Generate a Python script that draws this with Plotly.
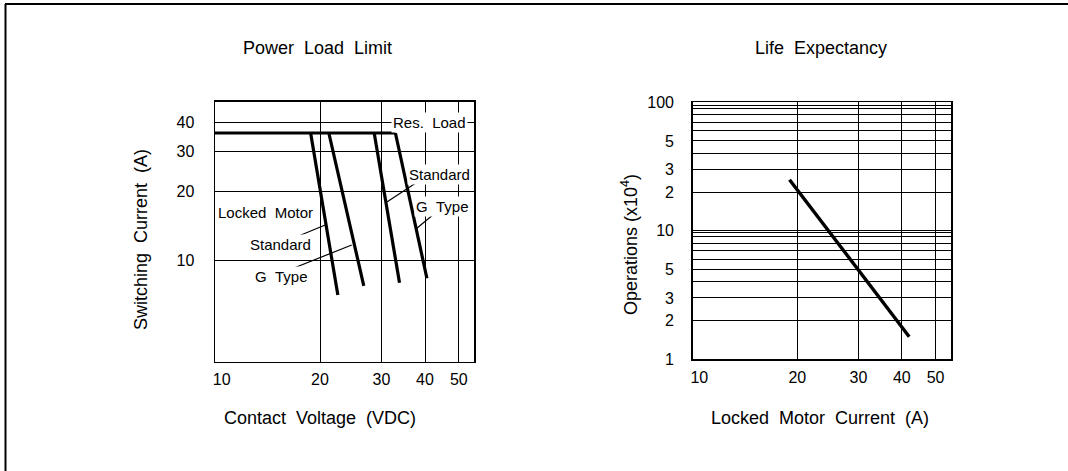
import math
import plotly.graph_objects as go

W, H = 1068, 471
FONT = "Liberation Sans"

# ---------------- data ----------------
# Power Load Limit (left)
res_load_x = [10, 32.9]
res_load_y = [36, 36]
lm_std_x = [18.8, 22.5]
lm_std_y = [36, 7.05]
lm_g_x = [21.2, 26.7]
lm_g_y = [36, 7.74]
res_std_x = [28.6, 33.8]
res_std_y = [36, 7.98]
res_g_x = [32.9, 40.5]
res_g_y = [36, 8.35]

left_xticks = [10, 20, 30, 40, 50]
left_xlabels = ["\u00a0\u00a0\u00a010", "20", "30", "40", "50"]
left_yticks = [10, 20, 30, 40]
left_ylabels = ["10", "20", "30", "40"]

# leader lines (axis units)
leaders = [
    ([31.1, 38.7], [18.0, 22.4]),
    ([37.9, 42.7], [13.8, 16.05]),
    ([17.15, 20.7], [12.68, 14.26]),
    ([16.77, 24.66], [9.23, 11.67]),
]
left_labels = [
    ("Res.\u00a0\u00a0Load", 41.3, 40.0),
    ("Standard", 44.0, 23.6),
    ("G\u00a0\u00a0Type", 45.0, 17.1),
    ("Locked\u00a0\u00a0Motor", 13.95, 16.15),
    ("Standard", 15.36, 11.7),
    ("G\u00a0\u00a0Type", 15.53, 8.54),
]

# Life Expectancy (right)
life_x = [19.0, 42.0]
life_y = [25.0, 1.5]

right_xticks = [10, 20, 30, 40, 50]
right_xlabels = ["\u00a0\u00a0\u00a010", "20", "30", "40", "50"]
right_yticks = [1, 2, 3, 4, 5, 6, 7, 8, 9, 9.65, 10, 20, 30, 40, 50, 60, 70, 80, 90, 94, 100]
right_ylabels = ["1", "2", "3", "", "5", "", "", "", "", "", "10",
                 "2", "3", "", "5", "", "", "", "", "", "100"]

# ---------------- figure ----------------
fig = go.Figure()

def px_x(p):
    return p / W

def px_y(p):
    return 1 - p / H

for xs, ys in [(res_load_x, res_load_y), (lm_std_x, lm_std_y), (lm_g_x, lm_g_y),
               (res_std_x, res_std_y), (res_g_x, res_g_y)]:
    fig.add_trace(go.Scatter(x=xs, y=ys, mode="lines", xaxis="x", yaxis="y",
                             line=dict(color="black", width=3.2), showlegend=False,
                             hoverinfo="skip"))
for xs, ys in leaders:
    fig.add_trace(go.Scatter(x=xs, y=ys, mode="lines", xaxis="x", yaxis="y",
                             line=dict(color="black", width=1.2), showlegend=False,
                             hoverinfo="skip"))

fig.add_trace(go.Scatter(x=life_x, y=life_y, mode="lines", xaxis="x2", yaxis="y2",
                         line=dict(color="black", width=3.4), showlegend=False,
                         hoverinfo="skip"))

axis_common = dict(type="log", showgrid=True, gridcolor="black", gridwidth=1,
                   showline=True, mirror=True, linecolor="black", linewidth=1.5,
                   zeroline=False, ticks="", tickmode="array",
                   tickfont=dict(family=FONT, size=16, color="black"),
                   automargin=False, fixedrange=True)

fig.update_layout(
    width=W, height=H,
    margin=dict(l=0, r=0, t=0, b=0),
    paper_bgcolor="white", plot_bgcolor="white",
    xaxis=dict(axis_common, domain=[px_x(215), px_x(474)], range=[1, 1.7425],
               tickvals=left_xticks, ticktext=left_xlabels, anchor="y",
               ticklabelstandoff=3),
    yaxis=dict(axis_common, domain=[px_y(361.7), px_y(101.7)], range=[0.557, 1.693],
               tickvals=left_yticks, ticktext=left_ylabels, anchor="x",
               ticklabelstandoff=16),
    xaxis2=dict(axis_common, domain=[px_x(692.7), px_x(951)], range=[1, 1.7435],
                tickvals=right_xticks, ticktext=right_xlabels, anchor="y2",
                ticklabelstandoff=3),
    yaxis2=dict(axis_common, domain=[px_y(359.3), px_y(102.3)], range=[0, 2],
                tickvals=right_yticks, ticktext=right_ylabels, anchor="x2",
                ticklabelstandoff=14),
)

ann = []
for text, x, y in left_labels:
    ann.append(dict(text=text, x=math.log10(x), y=math.log10(y), xref="x", yref="y",
                    showarrow=False, bgcolor="white", borderpad=1,
                    font=dict(family=FONT, size=15, color="black")))

def paper_text(text, x, y, size=18, angle=0):
    return dict(text=text, x=px_x(x), y=px_y(y), xref="paper", yref="paper",
                showarrow=False, textangle=angle, xanchor="center", yanchor="middle",
                font=dict(family=FONT, size=size, color="black"))

ann += [
    paper_text("Power\u00a0\u00a0Load\u00a0\u00a0Limit", 317.5, 48),
    paper_text("Life\u00a0\u00a0Expectancy", 821, 48),
    paper_text("Switching\u00a0\u00a0Current\u00a0\u00a0(A)", 141, 240, angle=-90),
    paper_text("Operations\u00a0(x10<sup>4</sup>)", 629, 245, angle=-90),
    paper_text("Contact\u00a0\u00a0Voltage\u00a0\u00a0(VDC)", 320, 418),
    paper_text("Locked\u00a0\u00a0Motor\u00a0\u00a0Current\u00a0\u00a0(A)", 820, 418),
]
fig.update_layout(annotations=ann)

# outer frame (cropped on right/bottom)
fig.update_layout(shapes=[
    dict(type="line", xref="paper", yref="paper", x0=px_x(5), x1=px_x(1070),
         y0=px_y(4), y1=px_y(4), line=dict(color="black", width=2)),
    dict(type="line", xref="paper", yref="paper", x0=px_x(5.5), x1=px_x(5.5),
         y0=px_y(4), y1=px_y(475), line=dict(color="black", width=2)),
])

fig.write_html("out.html",
               config={"displayModeBar": False, "staticPlot": True},
               post_script="document.body.style.margin='0px';document.body.style.overflow='hidden';")
